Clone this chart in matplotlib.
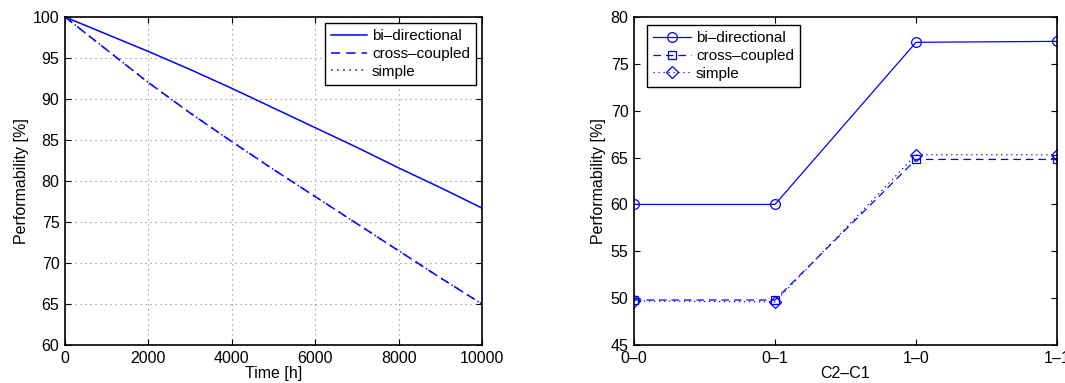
import matplotlib
matplotlib.use("Agg")
import matplotlib.pyplot as plt

plt.rcParams['font.family'] = ['Liberation Sans', 'DejaVu Sans']

# Left panel data
time_h = [0, 1000, 2000, 3000, 4000, 5000, 6000, 7000, 8000, 9000, 10000]
bi_time = [100, 97.9, 95.8, 93.6, 91.3, 88.9, 86.5, 84.1, 81.6, 79.2, 76.7]
cross_time = [100, 96.0, 92.0, 88.3, 84.8, 81.4, 78.1, 74.8, 71.5, 68.2, 65.0]
simple_time = [100, 96.0, 92.0, 88.3, 84.8, 81.4, 78.1, 74.8, 71.5, 68.2, 65.0]

# Right panel data
configs = ['0\u20130', '0\u20131', '1\u20130', '1\u20131']
bi_cfg = [60.0, 60.0, 77.3, 77.4]
cross_cfg = [49.8, 49.8, 64.8, 64.8]
simple_cfg = [49.7, 49.6, 65.3, 65.3]

W, H = 1065, 383
fig = plt.figure(figsize=(W / 100, H / 100), dpi=100)
blue = (0, 0, 1)
fs = 11.5
lfs = 11

ax1 = fig.add_axes([65 / W, (H - 345) / H, (482 - 65) / W, 328 / H])
ax1.plot(time_h, bi_time, '-', color=blue, lw=1.1, label='bi\u2013directional')
ax1.plot(time_h, cross_time, color=blue, lw=1.1, dashes=(6, 4), label='cross\u2013coupled')
ax1.plot(time_h, simple_time, color=blue, lw=1.1, dashes=(1, 3), label='simple')
ax1.set_xlim(0, 10000)
ax1.set_ylim(60, 100)
ax1.set_xticks(range(0, 10001, 2000))
ax1.set_yticks(range(60, 101, 5))
ax1.grid(True, color='0.5', lw=0.8, dashes=(1, 3.5))
ax1.set_xlabel('Time [h]', fontsize=fs, labelpad=0)
ax1.set_ylabel('Performability [%]', fontsize=fs, labelpad=3)
leg1 = ax1.legend(loc='upper right', bbox_to_anchor=(1 - 6 / 417, 1 - 6 / 328),
                  borderaxespad=0, fontsize=lfs, fancybox=False, edgecolor='black',
                  handlelength=2.4, borderpad=0.4, labelspacing=0.25, handletextpad=0.3,
                  framealpha=1)
leg1.get_frame().set_linewidth(1.0)

ax2 = fig.add_axes([634 / W, (H - 345) / H, (1057 - 634) / W, 328 / H])
xs = list(range(len(configs)))
ax2.plot(xs, bi_cfg, '-o', color=blue, lw=0.9, mfc='none', ms=7, mew=0.9, label='bi\u2013directional')
ax2.plot(xs, cross_cfg, '--s', color=blue, lw=0.9, mfc='none', ms=6, mew=0.9,
         dashes=(6, 4), label='cross\u2013coupled')
ax2.plot(xs, simple_cfg, ':D', color=blue, lw=0.9, mfc='none', ms=6, mew=0.9,
         dashes=(1, 3), label='simple')
ax2.set_xlim(0, 3)
ax2.set_ylim(45, 80)
ax2.set_xticks(xs)
ax2.set_xticklabels(configs)
ax2.set_yticks(range(45, 81, 5))
ax2.set_xlabel('C2\u2013C1', fontsize=fs, labelpad=0)
ax2.set_ylabel('Performability [%]', fontsize=fs, labelpad=3)
leg2 = ax2.legend(loc='upper left', bbox_to_anchor=(13 / 423, 1 - 8 / 328),
                  borderaxespad=0, fontsize=lfs, fancybox=False, edgecolor='black',
                  handlelength=2.5, borderpad=0.4, labelspacing=0.25, handletextpad=0.3,
                  numpoints=1, framealpha=1)
leg2.get_frame().set_linewidth(1.0)

for ax in (ax1, ax2):
    ax.tick_params(direction='in', top=True, right=True, labelsize=fs, length=4, width=0.8, pad=4)
    for sp in ax.spines.values():
        sp.set_linewidth(1.2)

fig.savefig('out.png', dpi=100)
